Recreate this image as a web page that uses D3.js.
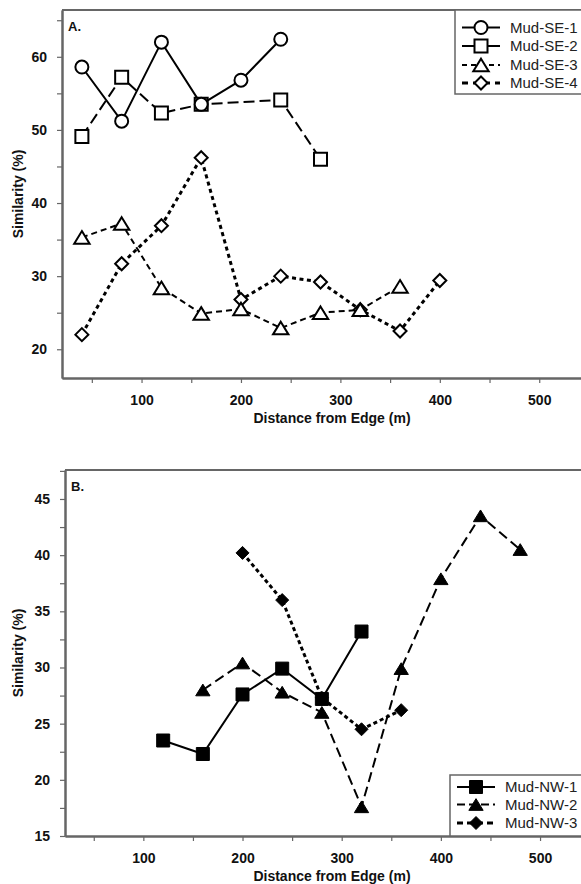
<!DOCTYPE html>
<html lang="en">
<head>
<meta charset="UTF-8"/>
<title>Similarity vs Distance from Edge</title>
<script src="https://d3js.org/d3.v7.min.js"></script>
<style>
  body { margin: 0; background: #fff; }
  text { font-family: "Liberation Sans", Arial, sans-serif; }
</style>
</head>
<body>
<script>
// ---- data ----
// Panel A (Mud-SE transects)
var seDist1 = [40, 80, 120, 160, 200, 240];
var seSim1  = [58.6, 51.2, 62.0, 53.5, 56.8, 62.4];
var seDist2 = [40, 80, 120, 160, 240, 280];
var seSim2  = [49.1, 57.2, 52.3, 53.5, 54.1, 46.0];
var seDist3 = [40, 80, 120, 160, 200, 240, 280, 320, 360];
var seSim3  = [35.3, 37.2, 28.4, 24.9, 25.5, 22.9, 25.0, 25.4, 28.6];
var seDist4 = [40, 80, 120, 160, 200, 240, 280, 320, 360, 400];
var seSim4  = [22.0, 31.7, 36.9, 46.2, 26.8, 30.0, 29.2, 25.4, 22.5, 29.4];

// Panel B (Mud-NW transects)
var nwDist1 = [120, 160, 200, 240, 280, 320];
var nwSim1  = [23.5, 22.3, 27.6, 29.9, 27.2, 33.2];
var nwDist2 = [160, 200, 240, 280, 320, 360, 400, 440, 480];
var nwSim2  = [28.0, 30.4, 27.8, 26.0, 17.6, 29.9, 37.9, 43.5, 40.5];
var nwDist3 = [200, 240, 280, 320, 360];
var nwSim3  = [40.2, 36.0, 27.3, 24.5, 26.2];

// tick values
var xMajor = [100, 200, 300, 400, 500];
var xMinor = [50, 150, 250, 350, 450];
var yMajorA = [20, 30, 40, 50, 60];
var yMinorA = [25, 35, 45, 55, 65];
var yMajorB = [15, 20, 25, 30, 35, 40, 45];
var yMinorB = [17.5, 22.5, 27.5, 32.5, 37.5, 42.5, 47.5];

var w = 581, h = 884;
var axisColor = "#666";

var svg = d3.select("body").append("svg")
    .attr("width", w)
    .attr("height", h);

function zip(xs, ys) {
    return xs.map(function(x, i) { return [x, ys[i]]; });
}

// marker path centred on 0,0
function markerPath(shape, s) {
    var r = s / 2;
    if (shape === "circle") {
        return "M" + (-r) + ",0A" + r + "," + r + " 0 1,0 " + r + ",0A" + r + "," + r + " 0 1,0 " + (-r) + ",0Z";
    }
    if (shape === "square") {
        return "M" + (-r) + "," + (-r) + "H" + r + "V" + r + "H" + (-r) + "Z";
    }
    if (shape === "triangle") {
        var hh = s * 0.9 / 2;
        return "M0," + (-hh) + "L" + (r * 1.1) + "," + hh + "L" + (-r * 1.1) + "," + hh + "Z";
    }
    // diamond
    return "M0," + (-r) + "L" + r + ",0L0," + r + "L" + (-r) + ",0Z";
}

function drawPanel(p) {
    var x = d3.scaleLinear().domain(p.xDomain).range([p.left, w]);
    var y = d3.scaleLinear().domain(p.yDomain).range([p.bottom, p.top]);
    var g = svg.append("g");

    // minor ticks
    g.append("g")
        .attr("transform", "translate(0," + p.bottom + ")")
        .call(d3.axisBottom(x).tickValues(xMinor).tickFormat("").tickSize(5).tickSizeOuter(0));
    g.append("g")
        .attr("transform", "translate(" + p.left + ",0)")
        .call(d3.axisLeft(y).tickValues(p.yMinor).tickFormat("").tickSize(5).tickSizeOuter(0));

    // major ticks and labels
    var xa = g.append("g")
        .attr("transform", "translate(0," + p.bottom + ")")
        .call(d3.axisBottom(x).tickValues(xMajor).tickSize(5).tickPadding(12).tickSizeOuter(0));
    var ya = g.append("g")
        .attr("transform", "translate(" + p.left + ",0)")
        .call(d3.axisLeft(y).tickValues(p.yMajor).tickSize(5).tickPadding(10).tickSizeOuter(0));

    g.selectAll(".domain").attr("stroke", axisColor).attr("stroke-width", 2);
    g.selectAll(".tick line").attr("stroke", axisColor).attr("stroke-width", 1.2);
    g.selectAll(".tick text")
        .attr("fill", "#111")
        .style("font-family", "'Liberation Sans', Arial, sans-serif")
        .style("font-size", "14px")
        .style("font-weight", "bold");

    // top frame line
    g.append("line")
        .attr("x1", p.left).attr("x2", w)
        .attr("y1", p.top).attr("y2", p.top)
        .attr("stroke", axisColor).attr("stroke-width", 2);

    // axis titles
    g.append("text")
        .attr("x", 332)
        .attr("y", p.bottom + 45)
        .attr("text-anchor", "middle")
        .style("font-size", "14px")
        .style("font-weight", "bold")
        .attr("fill", "#111")
        .text("Distance from Edge (m)");
    g.append("text")
        .attr("transform", "rotate(-90)")
        .attr("x", -(p.top + p.bottom) / 2)
        .attr("y", 23)
        .attr("text-anchor", "middle")
        .style("font-size", "14px")
        .style("font-weight", "bold")
        .attr("fill", "#111")
        .text("Similarity (%)");

    // panel letter
    g.append("text")
        .attr("x", p.left + 6)
        .attr("y", p.top + 21)
        .style("font-size", "13px")
        .style("font-weight", "bold")
        .attr("fill", "#111")
        .text(p.letter);

    var line = d3.line()
        .x(function(d) { return x(d[0]); })
        .y(function(d) { return y(d[1]); });

    // lines first, then markers on top
    p.series.forEach(function(s) {
        g.append("path")
            .datum(zip(s.dist, s.sim))
            .attr("d", line)
            .attr("fill", "none")
            .attr("stroke", "#000")
            .attr("stroke-width", s.width)
            .attr("stroke-dasharray", s.dash);
    });
    p.series.slice().reverse().forEach(function(s) {
        g.selectAll(null)
            .data(zip(s.dist, s.sim))
            .enter()
            .append("path")
            .attr("transform", function(d) { return "translate(" + x(d[0]) + "," + y(d[1]) + ")"; })
            .attr("d", markerPath(s.shape, s.size))
            .attr("fill", s.filled ? "#000" : "#fff")
            .attr("stroke", "#000")
            .attr("stroke-width", s.filled ? 1 : 2);
    });

    // legend
    var L = p.legend;
    g.append("rect")
        .attr("x", L.x).attr("y", L.y)
        .attr("width", w - L.x + 10).attr("height", L.h)
        .attr("fill", "#fff")
        .attr("stroke", axisColor).attr("stroke-width", 1.5);
    p.series.forEach(function(s, i) {
        var ly = L.rowY[i];
        g.append("line")
            .attr("x1", L.x + 7).attr("x2", L.x + 45)
            .attr("y1", ly).attr("y2", ly)
            .attr("stroke", "#000")
            .attr("stroke-width", s.width)
            .attr("stroke-dasharray", s.legendDash);
        g.append("path")
            .attr("transform", "translate(" + (L.x + 26) + "," + ly + ")")
            .attr("d", markerPath(s.shape, s.size))
            .attr("fill", s.filled ? "#000" : "#fff")
            .attr("stroke", "#000")
            .attr("stroke-width", s.filled ? 1 : 2);
        g.append("text")
            .attr("x", L.x + 55)
            .attr("y", ly)
            .attr("dy", "0.35em")
            .style("font-size", "15px")
            .attr("fill", "#222")
            .text(s.name);
    });
}

drawPanel({
    letter: "A.",
    left: 62, top: 10, bottom: 378,
    xDomain: [20, 542],
    yDomain: [16.07, 66.4],
    yMajor: yMajorA, yMinor: yMinorA,
    series: [
        {name: "Mud-SE-1", dist: seDist1, sim: seSim1, shape: "circle", size: 13, filled: false, width: 2, dash: null, legendDash: null},
        {name: "Mud-SE-2", dist: seDist2, sim: seSim2, shape: "square", size: 13, filled: false, width: 2, dash: "11,5", legendDash: null},
        {name: "Mud-SE-3", dist: seDist3, sim: seSim3, shape: "triangle", size: 14, filled: false, width: 2, dash: "6,4", legendDash: "5,4"},
        {name: "Mud-SE-4", dist: seDist4, sim: seSim4, shape: "diamond", size: 13, filled: false, width: 3, dash: "4,3.5", legendDash: "6,5"}
    ],
    legend: {x: 455, y: 10, h: 84, rowY: [27.5, 46, 65, 84 - 1]}
});

drawPanel({
    letter: "B.",
    left: 65, top: 470, bottom: 836,
    xDomain: [21, 541.3],
    yDomain: [15, 47.58],
    yMajor: yMajorB, yMinor: yMinorB,
    series: [
        {name: "Mud-NW-1", dist: nwDist1, sim: nwSim1, shape: "square", size: 13, filled: true, width: 2, dash: null, legendDash: null},
        {name: "Mud-NW-2", dist: nwDist2, sim: nwSim2, shape: "triangle", size: 13, filled: true, width: 2, dash: "10,5", legendDash: "8,4"},
        {name: "Mud-NW-3", dist: nwDist3, sim: nwSim3, shape: "diamond", size: 13, filled: true, width: 3, dash: "4,3", legendDash: "6,4"}
    ],
    legend: {x: 450, y: 775, h: 61, rowY: [787, 804.5, 823]}
});
</script>
</body>
</html>
